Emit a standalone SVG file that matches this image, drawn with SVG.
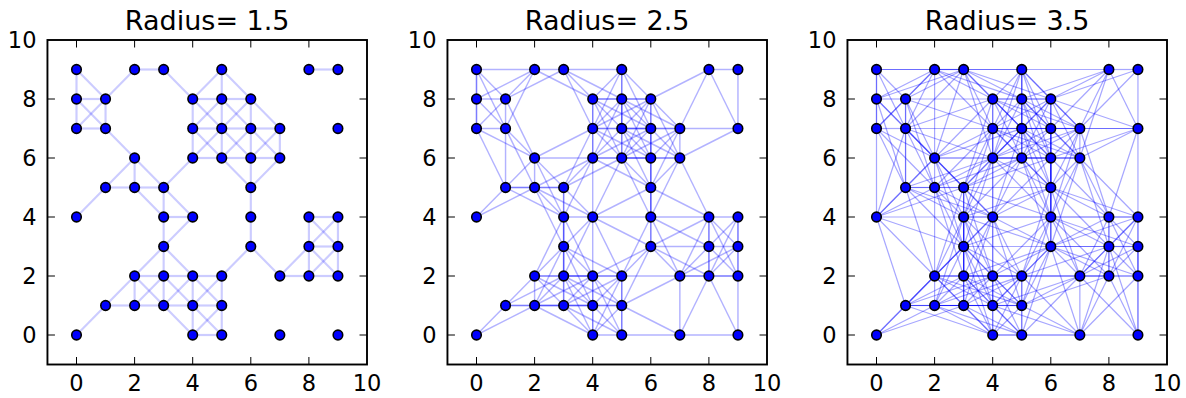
<svg xmlns="http://www.w3.org/2000/svg" xmlns:xlink="http://www.w3.org/1999/xlink" width="1186" height="398" viewBox="0 0 1186 398">
<style>
text{font-family:"DejaVu Sans",sans-serif;fill:#000}
.t{font-size:27px;text-anchor:middle}
.xl{font-size:22.5px;text-anchor:middle}
.yl{font-size:22.5px;text-anchor:end}
.fr{fill:none;stroke:#000;stroke-width:1.9}
.tk{fill:none;stroke:#000;stroke-width:1}
.ed1{fill:none;stroke:#00f;stroke-width:.075;stroke-opacity:.2}
.ed2{fill:none;stroke:#00f;stroke-width:.05;stroke-opacity:.3}
.ed3{fill:none;stroke:#00f;stroke-width:.042;stroke-opacity:.35}
.nd circle{fill:#00f;stroke:#000;stroke-width:.055}
</style>
<defs>
<g id="E1">
<path d="M2 9h1"/><path d="M8 9h1"/><path d="M0 8h1"/><path d="M4 8h1"/><path d="M5 8h1"/><path d="M0 7h1"/><path d="M4 7h1"/><path d="M5 7h1"/><path d="M6 7h1"/><path d="M4 6h1"/><path d="M5 6h1"/><path d="M6 6h1"/><path d="M1 5h1"/><path d="M2 5h1"/><path d="M3 4h1"/><path d="M8 4h1"/><path d="M8 3h1"/><path d="M2 2h1"/><path d="M3 2h1"/><path d="M4 2h1"/><path d="M7 2h1"/><path d="M8 2h1"/><path d="M1 1h1"/><path d="M2 1h1"/><path d="M3 1h1"/><path d="M4 1h1"/><path d="M4 0h1"/>
<path d="M4 0v1"/><path d="M5 0v1"/><path d="M2 1v1"/><path d="M3 1v1"/><path d="M4 1v1"/><path d="M5 1v1"/><path d="M3 2v1"/><path d="M8 2v1"/><path d="M9 2v1"/><path d="M3 3v1"/><path d="M6 3v1"/><path d="M8 3v1"/><path d="M9 3v1"/><path d="M3 4v1"/><path d="M6 4v1"/><path d="M2 5v1"/><path d="M6 5v1"/><path d="M4 6v1"/><path d="M5 6v1"/><path d="M6 6v1"/><path d="M7 6v1"/><path d="M0 7v1"/><path d="M1 7v1"/><path d="M4 7v1"/><path d="M5 7v1"/><path d="M6 7v1"/><path d="M0 8v1"/><path d="M5 8v1"/>
</g>
<g id="E2">
<path d="M0 0l1 1"/><path d="M4 0l1 1"/><path d="M1 1l1 1"/><path d="M2 1l1 1"/><path d="M3 1l1 1"/><path d="M4 1l1 1"/><path d="M2 2l1 1"/><path d="M5 2l1 1"/><path d="M7 2l1 1"/><path d="M8 2l1 1"/><path d="M3 3l1 1"/><path d="M8 3l1 1"/><path d="M0 4l1 1"/><path d="M1 5l1 1"/><path d="M3 5l1 1"/><path d="M6 5l1 1"/><path d="M4 6l1 1"/><path d="M5 6l1 1"/><path d="M6 6l1 1"/><path d="M0 7l1 1"/><path d="M4 7l1 1"/><path d="M5 7l1 1"/><path d="M1 8l1 1"/><path d="M4 8l1 1"/>
<path d="M0 9l1-1"/><path d="M3 9l1-1"/><path d="M5 9l1-1"/><path d="M0 8l1-1"/><path d="M4 8l1-1"/><path d="M5 8l1-1"/><path d="M6 8l1-1"/><path d="M1 7l1-1"/><path d="M4 7l1-1"/><path d="M5 7l1-1"/><path d="M6 7l1-1"/><path d="M2 6l1-1"/><path d="M5 6l1-1"/><path d="M2 5l1-1"/><path d="M3 5l1-1"/><path d="M8 4l1-1"/><path d="M3 3l1-1"/><path d="M6 3l1-1"/><path d="M8 3l1-1"/><path d="M2 2l1-1"/><path d="M3 2l1-1"/><path d="M4 2l1-1"/><path d="M3 1l1-1"/><path d="M4 1l1-1"/>
</g>
<g id="E4">
<path d="M0 9h2"/><path d="M3 9h2"/><path d="M4 8h2"/><path d="M4 7h2"/><path d="M5 7h2"/><path d="M7 7h2"/><path d="M2 6h2"/><path d="M4 6h2"/><path d="M5 6h2"/><path d="M1 5h2"/><path d="M4 4h2"/><path d="M6 4h2"/><path d="M6 3h2"/><path d="M2 2h2"/><path d="M3 2h2"/><path d="M5 2h2"/><path d="M7 2h2"/><path d="M1 1h2"/><path d="M2 1h2"/><path d="M3 1h2"/><path d="M5 0h2"/><path d="M7 0h2"/>
<path d="M0 7v2"/><path d="M1 5v2"/><path d="M3 1v2"/><path d="M3 2v2"/><path d="M3 3v2"/><path d="M4 0v2"/><path d="M4 2v2"/><path d="M4 4v2"/><path d="M4 6v2"/><path d="M5 0v2"/><path d="M5 6v2"/><path d="M5 7v2"/><path d="M6 3v2"/><path d="M6 4v2"/><path d="M6 5v2"/><path d="M6 6v2"/><path d="M7 0v2"/><path d="M8 2v2"/><path d="M9 0v2"/><path d="M9 2v2"/><path d="M9 7v2"/>
</g>
<g id="E5">
<path d="M0 0l2 1"/><path d="M1 1l2 1"/><path d="M2 1l2 1"/><path d="M3 1l2 1"/><path d="M5 1l2 1"/><path d="M4 2l2 1"/><path d="M7 2l2 1"/><path d="M6 3l2 1"/><path d="M0 4l2 1"/><path d="M4 4l2 1"/><path d="M2 5l2 1"/><path d="M3 5l2 1"/><path d="M2 6l2 1"/><path d="M4 6l2 1"/><path d="M5 6l2 1"/><path d="M7 6l2 1"/><path d="M4 7l2 1"/><path d="M0 8l2 1"/><path d="M1 8l2 1"/><path d="M6 8l2 1"/>
<path d="M2 9l2-1"/><path d="M3 9l2-1"/><path d="M4 8l2-1"/><path d="M5 8l2-1"/><path d="M0 7l2-1"/><path d="M4 7l2-1"/><path d="M5 7l2-1"/><path d="M4 6l2-1"/><path d="M1 5l2-1"/><path d="M2 5l2-1"/><path d="M6 5l2-1"/><path d="M4 4l2-1"/><path d="M6 4l2-1"/><path d="M3 3l2-1"/><path d="M6 3l2-1"/><path d="M2 2l2-1"/><path d="M3 2l2-1"/><path d="M2 1l2-1"/><path d="M3 1l2-1"/><path d="M5 1l2-1"/>
<path d="M4 0l1 2"/><path d="M7 0l1 2"/><path d="M2 1l1 2"/><path d="M5 1l1 2"/><path d="M2 2l1 2"/><path d="M3 2l1 2"/><path d="M5 2l1 2"/><path d="M7 2l1 2"/><path d="M8 2l1 2"/><path d="M3 4l1 2"/><path d="M4 4l1 2"/><path d="M6 4l1 2"/><path d="M3 5l1 2"/><path d="M6 5l1 2"/><path d="M4 6l1 2"/><path d="M5 6l1 2"/><path d="M1 7l1 2"/><path d="M4 7l1 2"/><path d="M7 7l1 2"/>
<path d="M0 9l1-2"/><path d="M3 9l1-2"/><path d="M5 9l1-2"/><path d="M8 9l1-2"/><path d="M1 8l1-2"/><path d="M4 8l1-2"/><path d="M5 8l1-2"/><path d="M6 8l1-2"/><path d="M0 7l1-2"/><path d="M1 7l1-2"/><path d="M5 7l1-2"/><path d="M2 6l1-2"/><path d="M5 6l1-2"/><path d="M7 6l1-2"/><path d="M2 5l1-2"/><path d="M3 4l1-2"/><path d="M4 4l1-2"/><path d="M6 4l1-2"/><path d="M8 4l1-2"/><path d="M3 3l1-2"/><path d="M3 2l1-2"/><path d="M4 2l1-2"/><path d="M8 2l1-2"/>
</g>
<g id="E8">
<path d="M0 0l2 2"/><path d="M5 0l2 2"/><path d="M7 0l2 2"/><path d="M1 1l2 2"/><path d="M4 1l2 2"/><path d="M2 2l2 2"/><path d="M4 2l2 2"/><path d="M7 2l2 2"/><path d="M0 4l2 2"/><path d="M3 4l2 2"/><path d="M4 4l2 2"/><path d="M2 5l2 2"/><path d="M3 5l2 2"/><path d="M2 6l2 2"/><path d="M4 6l2 2"/><path d="M0 7l2 2"/><path d="M1 7l2 2"/><path d="M6 7l2 2"/><path d="M7 7l2 2"/>
<path d="M2 9l2-2"/><path d="M3 9l2-2"/><path d="M5 9l2-2"/><path d="M0 8l2-2"/><path d="M4 8l2-2"/><path d="M5 8l2-2"/><path d="M0 7l2-2"/><path d="M1 7l2-2"/><path d="M4 7l2-2"/><path d="M2 6l2-2"/><path d="M4 6l2-2"/><path d="M6 6l2-2"/><path d="M7 6l2-2"/><path d="M1 5l2-2"/><path d="M6 5l2-2"/><path d="M0 4l2-2"/><path d="M3 4l2-2"/><path d="M6 4l2-2"/><path d="M3 3l2-2"/><path d="M2 2l2-2"/><path d="M3 2l2-2"/><path d="M5 2l2-2"/><path d="M7 2l2-2"/>
</g>
<g id="E9">
<path d="M0 9h3"/><path d="M2 9h3"/><path d="M5 9h3"/><path d="M1 8h3"/><path d="M1 7h3"/><path d="M4 7h3"/><path d="M6 7h3"/><path d="M2 6h3"/><path d="M4 6h3"/><path d="M3 5h3"/><path d="M0 4h3"/><path d="M3 4h3"/><path d="M6 4h3"/><path d="M3 3h3"/><path d="M6 3h3"/><path d="M2 2h3"/><path d="M4 2h3"/><path d="M5 2h3"/><path d="M1 1h3"/><path d="M2 1h3"/><path d="M4 0h3"/>
<path d="M0 4v3"/><path d="M1 5v3"/><path d="M2 2v3"/><path d="M2 6v3"/><path d="M3 1v3"/><path d="M3 2v3"/><path d="M4 1v3"/><path d="M4 4v3"/><path d="M5 6v3"/><path d="M6 3v3"/><path d="M6 4v3"/><path d="M6 5v3"/><path d="M9 0v3"/><path d="M9 4v3"/>
</g>
<g id="E10">
<path d="M0 0l3 1"/><path d="M1 1l3 1"/><path d="M2 1l3 1"/><path d="M4 1l3 1"/><path d="M5 1l3 1"/><path d="M3 2l3 1"/><path d="M5 2l3 1"/><path d="M3 3l3 1"/><path d="M6 3l3 1"/><path d="M0 4l3 1"/><path d="M3 4l3 1"/><path d="M1 5l3 1"/><path d="M2 5l3 1"/><path d="M3 5l3 1"/><path d="M2 6l3 1"/><path d="M4 6l3 1"/><path d="M6 6l3 1"/><path d="M1 7l3 1"/><path d="M0 8l3 1"/><path d="M5 8l3 1"/><path d="M6 8l3 1"/>
<path d="M2 9l3-1"/><path d="M3 9l3-1"/><path d="M1 8l3-1"/><path d="M4 8l3-1"/><path d="M6 8l3-1"/><path d="M1 7l3-1"/><path d="M4 7l3-1"/><path d="M1 5l3-1"/><path d="M3 5l3-1"/><path d="M6 5l3-1"/><path d="M0 4l3-1"/><path d="M3 4l3-1"/><path d="M6 4l3-1"/><path d="M6 3l3-1"/><path d="M2 2l3-1"/><path d="M1 1l3-1"/><path d="M2 1l3-1"/><path d="M4 1l3-1"/>
<path d="M5 0l1 3"/><path d="M7 0l1 3"/><path d="M2 1l1 3"/><path d="M3 1l1 3"/><path d="M5 1l1 3"/><path d="M2 2l1 3"/><path d="M5 2l1 3"/><path d="M3 3l1 3"/><path d="M6 3l1 3"/><path d="M0 4l1 3"/><path d="M3 4l1 3"/><path d="M4 4l1 3"/><path d="M6 4l1 3"/><path d="M8 4l1 3"/><path d="M3 5l1 3"/><path d="M2 6l1 3"/><path d="M4 6l1 3"/><path d="M7 6l1 3"/>
<path d="M3 9l1-3"/><path d="M5 9l1-3"/><path d="M0 8l1-3"/><path d="M1 8l1-3"/><path d="M5 8l1-3"/><path d="M5 7l1-3"/><path d="M7 7l1-3"/><path d="M2 6l1-3"/><path d="M5 6l1-3"/><path d="M7 6l1-3"/><path d="M1 5l1-3"/><path d="M2 5l1-3"/><path d="M3 5l1-3"/><path d="M6 5l1-3"/><path d="M0 4l1-3"/><path d="M3 4l1-3"/><path d="M4 4l1-3"/><path d="M3 3l1-3"/><path d="M6 3l1-3"/><path d="M8 3l1-3"/>
</g>
</defs>
<rect width="1186" height="398" fill="#fff"/>

<g id="panel1">
<text class="t" x="207.2" y="30">Radius= 1.5</text>
<g id="edges1" class="ed1" transform="translate(76.5 335) scale(29.05 -29.5)">
<use href="#E1" xlink:href="#E1"/><use href="#E2" xlink:href="#E2"/>
</g>
<g id="nodes1" class="nd" transform="translate(76.5 335) scale(29.05 -29.5)">
<g id="a0-9"><circle cx="0" cy="9" r=".164"/></g><g id="a2-9"><circle cx="2" cy="9" r=".164"/></g><g id="a3-9"><circle cx="3" cy="9" r=".164"/></g><g id="a5-9"><circle cx="5" cy="9" r=".164"/></g><g id="a8-9"><circle cx="8" cy="9" r=".164"/></g><g id="a9-9"><circle cx="9" cy="9" r=".164"/></g>
<g id="a0-8"><circle cx="0" cy="8" r=".164"/></g><g id="a1-8"><circle cx="1" cy="8" r=".164"/></g><g id="a4-8"><circle cx="4" cy="8" r=".164"/></g><g id="a5-8"><circle cx="5" cy="8" r=".164"/></g><g id="a6-8"><circle cx="6" cy="8" r=".164"/></g>
<g id="a0-7"><circle cx="0" cy="7" r=".164"/></g><g id="a1-7"><circle cx="1" cy="7" r=".164"/></g><g id="a4-7"><circle cx="4" cy="7" r=".164"/></g><g id="a5-7"><circle cx="5" cy="7" r=".164"/></g><g id="a6-7"><circle cx="6" cy="7" r=".164"/></g><g id="a7-7"><circle cx="7" cy="7" r=".164"/></g><g id="a9-7"><circle cx="9" cy="7" r=".164"/></g>
<g id="a2-6"><circle cx="2" cy="6" r=".164"/></g><g id="a4-6"><circle cx="4" cy="6" r=".164"/></g><g id="a5-6"><circle cx="5" cy="6" r=".164"/></g><g id="a6-6"><circle cx="6" cy="6" r=".164"/></g><g id="a7-6"><circle cx="7" cy="6" r=".164"/></g>
<g id="a1-5"><circle cx="1" cy="5" r=".164"/></g><g id="a2-5"><circle cx="2" cy="5" r=".164"/></g><g id="a3-5"><circle cx="3" cy="5" r=".164"/></g><g id="a6-5"><circle cx="6" cy="5" r=".164"/></g>
<g id="a0-4"><circle cx="0" cy="4" r=".164"/></g><g id="a3-4"><circle cx="3" cy="4" r=".164"/></g><g id="a4-4"><circle cx="4" cy="4" r=".164"/></g><g id="a6-4"><circle cx="6" cy="4" r=".164"/></g><g id="a8-4"><circle cx="8" cy="4" r=".164"/></g><g id="a9-4"><circle cx="9" cy="4" r=".164"/></g>
<g id="a3-3"><circle cx="3" cy="3" r=".164"/></g><g id="a6-3"><circle cx="6" cy="3" r=".164"/></g><g id="a8-3"><circle cx="8" cy="3" r=".164"/></g><g id="a9-3"><circle cx="9" cy="3" r=".164"/></g>
<g id="a2-2"><circle cx="2" cy="2" r=".164"/></g><g id="a3-2"><circle cx="3" cy="2" r=".164"/></g><g id="a4-2"><circle cx="4" cy="2" r=".164"/></g><g id="a5-2"><circle cx="5" cy="2" r=".164"/></g><g id="a7-2"><circle cx="7" cy="2" r=".164"/></g><g id="a8-2"><circle cx="8" cy="2" r=".164"/></g><g id="a9-2"><circle cx="9" cy="2" r=".164"/></g>
<g id="a1-1"><circle cx="1" cy="1" r=".164"/></g><g id="a2-1"><circle cx="2" cy="1" r=".164"/></g><g id="a3-1"><circle cx="3" cy="1" r=".164"/></g><g id="a4-1"><circle cx="4" cy="1" r=".164"/></g><g id="a5-1"><circle cx="5" cy="1" r=".164"/></g>
<g id="a0-0"><circle cx="0" cy="0" r=".164"/></g><g id="a4-0"><circle cx="4" cy="0" r=".164"/></g><g id="a5-0"><circle cx="5" cy="0" r=".164"/></g><g id="a7-0"><circle cx="7" cy="0" r=".164"/></g><g id="a9-0"><circle cx="9" cy="0" r=".164"/></g>
</g>
<rect class="fr" x="47.45" y="40" width="319.55" height="324.5"/>
<path class="tk" d="M76.5 364.5v-7.5M134.6 364.5v-7.5M192.7 364.5v-7.5M250.8 364.5v-7.5M308.9 364.5v-7.5M76.5 40v7.5M134.6 40v7.5M192.7 40v7.5M250.8 40v7.5M308.9 40v7.5M47.45 335h7.5M47.45 276h7.5M47.45 217h7.5M47.45 158h7.5M47.45 99h7.5M367 335h-7.5M367 276h-7.5M367 217h-7.5M367 158h-7.5M367 99h-7.5"/>
<text class="xl" x="76.5" y="391">0</text><text class="xl" x="134.6" y="391">2</text><text class="xl" x="192.7" y="391">4</text><text class="xl" x="250.8" y="391">6</text><text class="xl" x="308.9" y="391">8</text><text class="xl" x="367" y="391">10</text>
<text class="yl" x="36.5" y="343.2">0</text><text class="yl" x="36.5" y="284.2">2</text><text class="yl" x="36.5" y="225.2">4</text><text class="yl" x="36.5" y="166.2">6</text><text class="yl" x="36.5" y="107.2">8</text><text class="yl" x="36.5" y="48.2">10</text>
</g>

<g id="panel2" transform="translate(400 0)">
<text class="t" x="207.2" y="30">Radius= 2.5</text>
<g id="edges2" class="ed2" transform="translate(76.5 335) scale(29.05 -29.5)">
<use href="#E1" xlink:href="#E1"/><use href="#E2" xlink:href="#E2"/><use href="#E4" xlink:href="#E4"/><use href="#E5" xlink:href="#E5"/>
</g>
<g id="nodes2" class="nd" transform="translate(76.5 335) scale(29.05 -29.5)">
<g id="b0-9"><circle cx="0" cy="9" r=".164"/></g><g id="b2-9"><circle cx="2" cy="9" r=".164"/></g><g id="b3-9"><circle cx="3" cy="9" r=".164"/></g><g id="b5-9"><circle cx="5" cy="9" r=".164"/></g><g id="b8-9"><circle cx="8" cy="9" r=".164"/></g><g id="b9-9"><circle cx="9" cy="9" r=".164"/></g>
<g id="b0-8"><circle cx="0" cy="8" r=".164"/></g><g id="b1-8"><circle cx="1" cy="8" r=".164"/></g><g id="b4-8"><circle cx="4" cy="8" r=".164"/></g><g id="b5-8"><circle cx="5" cy="8" r=".164"/></g><g id="b6-8"><circle cx="6" cy="8" r=".164"/></g>
<g id="b0-7"><circle cx="0" cy="7" r=".164"/></g><g id="b1-7"><circle cx="1" cy="7" r=".164"/></g><g id="b4-7"><circle cx="4" cy="7" r=".164"/></g><g id="b5-7"><circle cx="5" cy="7" r=".164"/></g><g id="b6-7"><circle cx="6" cy="7" r=".164"/></g><g id="b7-7"><circle cx="7" cy="7" r=".164"/></g><g id="b9-7"><circle cx="9" cy="7" r=".164"/></g>
<g id="b2-6"><circle cx="2" cy="6" r=".164"/></g><g id="b4-6"><circle cx="4" cy="6" r=".164"/></g><g id="b5-6"><circle cx="5" cy="6" r=".164"/></g><g id="b6-6"><circle cx="6" cy="6" r=".164"/></g><g id="b7-6"><circle cx="7" cy="6" r=".164"/></g>
<g id="b1-5"><circle cx="1" cy="5" r=".164"/></g><g id="b2-5"><circle cx="2" cy="5" r=".164"/></g><g id="b3-5"><circle cx="3" cy="5" r=".164"/></g><g id="b6-5"><circle cx="6" cy="5" r=".164"/></g>
<g id="b0-4"><circle cx="0" cy="4" r=".164"/></g><g id="b3-4"><circle cx="3" cy="4" r=".164"/></g><g id="b4-4"><circle cx="4" cy="4" r=".164"/></g><g id="b6-4"><circle cx="6" cy="4" r=".164"/></g><g id="b8-4"><circle cx="8" cy="4" r=".164"/></g><g id="b9-4"><circle cx="9" cy="4" r=".164"/></g>
<g id="b3-3"><circle cx="3" cy="3" r=".164"/></g><g id="b6-3"><circle cx="6" cy="3" r=".164"/></g><g id="b8-3"><circle cx="8" cy="3" r=".164"/></g><g id="b9-3"><circle cx="9" cy="3" r=".164"/></g>
<g id="b2-2"><circle cx="2" cy="2" r=".164"/></g><g id="b3-2"><circle cx="3" cy="2" r=".164"/></g><g id="b4-2"><circle cx="4" cy="2" r=".164"/></g><g id="b5-2"><circle cx="5" cy="2" r=".164"/></g><g id="b7-2"><circle cx="7" cy="2" r=".164"/></g><g id="b8-2"><circle cx="8" cy="2" r=".164"/></g><g id="b9-2"><circle cx="9" cy="2" r=".164"/></g>
<g id="b1-1"><circle cx="1" cy="1" r=".164"/></g><g id="b2-1"><circle cx="2" cy="1" r=".164"/></g><g id="b3-1"><circle cx="3" cy="1" r=".164"/></g><g id="b4-1"><circle cx="4" cy="1" r=".164"/></g><g id="b5-1"><circle cx="5" cy="1" r=".164"/></g>
<g id="b0-0"><circle cx="0" cy="0" r=".164"/></g><g id="b4-0"><circle cx="4" cy="0" r=".164"/></g><g id="b5-0"><circle cx="5" cy="0" r=".164"/></g><g id="b7-0"><circle cx="7" cy="0" r=".164"/></g><g id="b9-0"><circle cx="9" cy="0" r=".164"/></g>
</g>
<rect class="fr" x="47.45" y="40" width="319.55" height="324.5"/>
<path class="tk" d="M76.5 364.5v-7.5M134.6 364.5v-7.5M192.7 364.5v-7.5M250.8 364.5v-7.5M308.9 364.5v-7.5M76.5 40v7.5M134.6 40v7.5M192.7 40v7.5M250.8 40v7.5M308.9 40v7.5M47.45 335h7.5M47.45 276h7.5M47.45 217h7.5M47.45 158h7.5M47.45 99h7.5M367 335h-7.5M367 276h-7.5M367 217h-7.5M367 158h-7.5M367 99h-7.5"/>
<text class="xl" x="76.5" y="391">0</text><text class="xl" x="134.6" y="391">2</text><text class="xl" x="192.7" y="391">4</text><text class="xl" x="250.8" y="391">6</text><text class="xl" x="308.9" y="391">8</text><text class="xl" x="367" y="391">10</text>
<text class="yl" x="36.5" y="343.2">0</text><text class="yl" x="36.5" y="284.2">2</text><text class="yl" x="36.5" y="225.2">4</text><text class="yl" x="36.5" y="166.2">6</text><text class="yl" x="36.5" y="107.2">8</text><text class="yl" x="36.5" y="48.2">10</text>
</g>

<g id="panel3" transform="translate(800 0)">
<text class="t" x="207.2" y="30">Radius= 3.5</text>
<g id="edges3" class="ed3" transform="translate(76.5 335) scale(29.05 -29.5)">
<use href="#E1" xlink:href="#E1"/><use href="#E2" xlink:href="#E2"/><use href="#E4" xlink:href="#E4"/><use href="#E5" xlink:href="#E5"/><use href="#E8" xlink:href="#E8"/><use href="#E9" xlink:href="#E9"/><use href="#E10" xlink:href="#E10"/>
</g>
<g id="nodes3" class="nd" transform="translate(76.5 335) scale(29.05 -29.5)">
<g id="c0-9"><circle cx="0" cy="9" r=".164"/></g><g id="c2-9"><circle cx="2" cy="9" r=".164"/></g><g id="c3-9"><circle cx="3" cy="9" r=".164"/></g><g id="c5-9"><circle cx="5" cy="9" r=".164"/></g><g id="c8-9"><circle cx="8" cy="9" r=".164"/></g><g id="c9-9"><circle cx="9" cy="9" r=".164"/></g>
<g id="c0-8"><circle cx="0" cy="8" r=".164"/></g><g id="c1-8"><circle cx="1" cy="8" r=".164"/></g><g id="c4-8"><circle cx="4" cy="8" r=".164"/></g><g id="c5-8"><circle cx="5" cy="8" r=".164"/></g><g id="c6-8"><circle cx="6" cy="8" r=".164"/></g>
<g id="c0-7"><circle cx="0" cy="7" r=".164"/></g><g id="c1-7"><circle cx="1" cy="7" r=".164"/></g><g id="c4-7"><circle cx="4" cy="7" r=".164"/></g><g id="c5-7"><circle cx="5" cy="7" r=".164"/></g><g id="c6-7"><circle cx="6" cy="7" r=".164"/></g><g id="c7-7"><circle cx="7" cy="7" r=".164"/></g><g id="c9-7"><circle cx="9" cy="7" r=".164"/></g>
<g id="c2-6"><circle cx="2" cy="6" r=".164"/></g><g id="c4-6"><circle cx="4" cy="6" r=".164"/></g><g id="c5-6"><circle cx="5" cy="6" r=".164"/></g><g id="c6-6"><circle cx="6" cy="6" r=".164"/></g><g id="c7-6"><circle cx="7" cy="6" r=".164"/></g>
<g id="c1-5"><circle cx="1" cy="5" r=".164"/></g><g id="c2-5"><circle cx="2" cy="5" r=".164"/></g><g id="c3-5"><circle cx="3" cy="5" r=".164"/></g><g id="c6-5"><circle cx="6" cy="5" r=".164"/></g>
<g id="c0-4"><circle cx="0" cy="4" r=".164"/></g><g id="c3-4"><circle cx="3" cy="4" r=".164"/></g><g id="c4-4"><circle cx="4" cy="4" r=".164"/></g><g id="c6-4"><circle cx="6" cy="4" r=".164"/></g><g id="c8-4"><circle cx="8" cy="4" r=".164"/></g><g id="c9-4"><circle cx="9" cy="4" r=".164"/></g>
<g id="c3-3"><circle cx="3" cy="3" r=".164"/></g><g id="c6-3"><circle cx="6" cy="3" r=".164"/></g><g id="c8-3"><circle cx="8" cy="3" r=".164"/></g><g id="c9-3"><circle cx="9" cy="3" r=".164"/></g>
<g id="c2-2"><circle cx="2" cy="2" r=".164"/></g><g id="c3-2"><circle cx="3" cy="2" r=".164"/></g><g id="c4-2"><circle cx="4" cy="2" r=".164"/></g><g id="c5-2"><circle cx="5" cy="2" r=".164"/></g><g id="c7-2"><circle cx="7" cy="2" r=".164"/></g><g id="c8-2"><circle cx="8" cy="2" r=".164"/></g><g id="c9-2"><circle cx="9" cy="2" r=".164"/></g>
<g id="c1-1"><circle cx="1" cy="1" r=".164"/></g><g id="c2-1"><circle cx="2" cy="1" r=".164"/></g><g id="c3-1"><circle cx="3" cy="1" r=".164"/></g><g id="c4-1"><circle cx="4" cy="1" r=".164"/></g><g id="c5-1"><circle cx="5" cy="1" r=".164"/></g>
<g id="c0-0"><circle cx="0" cy="0" r=".164"/></g><g id="c4-0"><circle cx="4" cy="0" r=".164"/></g><g id="c5-0"><circle cx="5" cy="0" r=".164"/></g><g id="c7-0"><circle cx="7" cy="0" r=".164"/></g><g id="c9-0"><circle cx="9" cy="0" r=".164"/></g>
</g>
<rect class="fr" x="47.45" y="40" width="319.55" height="324.5"/>
<path class="tk" d="M76.5 364.5v-7.5M134.6 364.5v-7.5M192.7 364.5v-7.5M250.8 364.5v-7.5M308.9 364.5v-7.5M76.5 40v7.5M134.6 40v7.5M192.7 40v7.5M250.8 40v7.5M308.9 40v7.5M47.45 335h7.5M47.45 276h7.5M47.45 217h7.5M47.45 158h7.5M47.45 99h7.5M367 335h-7.5M367 276h-7.5M367 217h-7.5M367 158h-7.5M367 99h-7.5"/>
<text class="xl" x="76.5" y="391">0</text><text class="xl" x="134.6" y="391">2</text><text class="xl" x="192.7" y="391">4</text><text class="xl" x="250.8" y="391">6</text><text class="xl" x="308.9" y="391">8</text><text class="xl" x="367" y="391">10</text>
<text class="yl" x="36.5" y="343.2">0</text><text class="yl" x="36.5" y="284.2">2</text><text class="yl" x="36.5" y="225.2">4</text><text class="yl" x="36.5" y="166.2">6</text><text class="yl" x="36.5" y="107.2">8</text><text class="yl" x="36.5" y="48.2">10</text>
</g>
</svg>
